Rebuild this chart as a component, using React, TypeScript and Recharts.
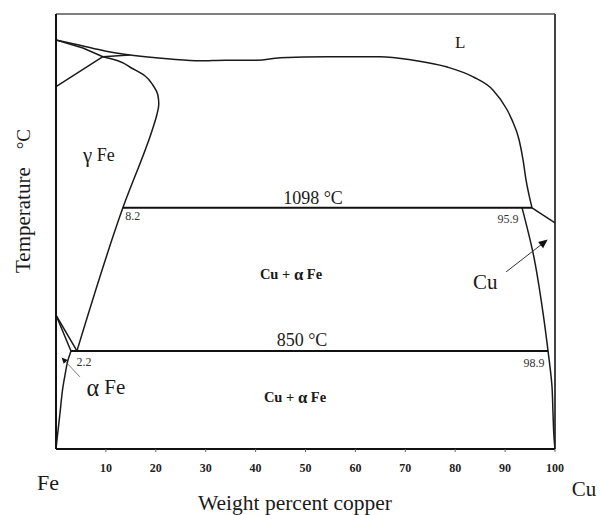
import { LineChart, Line, XAxis, YAxis, ReferenceLine, ReferenceDot } from "recharts";

// Fe–Cu phase diagram (schematic). x = wt% Cu, t = temperature in °C
const xTicks = [10, 20, 30, 40, 50, 60, 70, 80, 90, 100];

const liquidus = [
  { x: 0, t: 1389 }, { x: 4.8, t: 1380 }, { x: 9.8, t: 1370 }, { x: 14.8, t: 1363 },
  { x: 22.9, t: 1356 }, { x: 28.9, t: 1353 }, { x: 33.9, t: 1354 }, { x: 40.3, t: 1354 },
  { x: 44.9, t: 1358 }, { x: 54.5, t: 1360 }, { x: 64.9, t: 1360 }, { x: 71.5, t: 1354 },
  { x: 78.4, t: 1342 }, { x: 83.6, t: 1325 }, { x: 87.6, t: 1302 }, { x: 90.4, t: 1268 },
  { x: 91.4, t: 1250 }, { x: 92.8, t: 1216 }, { x: 93.6, t: 1181 }, { x: 94.2, t: 1146 },
  { x: 94.8, t: 1120 }, { x: 95.4, t: 1098 },
];
const deltaSolidus = [{ x: 0, t: 1389 }, { x: 5.4, t: 1375 }, { x: 9.4, t: 1360 }];
const deltaPeritectic = [{ x: 9.4, t: 1360 }, { x: 14.8, t: 1363 }];
const deltaGamma = [{ x: 0, t: 1308 }, { x: 9.4, t: 1360 }];
const gammaBoundary = [
  { x: 9.4, t: 1360 }, { x: 12.4, t: 1353 }, { x: 15.2, t: 1340 }, { x: 17.8, t: 1327 },
  { x: 19.4, t: 1311 }, { x: 20.4, t: 1294 }, { x: 20.6, t: 1278 }, { x: 20.2, t: 1259 },
  { x: 19.4, t: 1236 }, { x: 13.4, t: 1098 }, { x: 4.2, t: 850 },
];
const alphaGammaUpper = [{ x: 0, t: 912 }, { x: 4.2, t: 850 }];
const alphaGammaLower = [{ x: 0, t: 912 }, { x: 3.0, t: 850 }];
const alphaSolvus = [
  { x: 3.0, t: 850 }, { x: 2.4, t: 834 }, { x: 1.8, t: 808 }, { x: 1.4, t: 788 },
  { x: 0.8, t: 742 }, { x: 0.2, t: 696 }, { x: 0, t: 680 },
];
const iso1098 = [{ x: 13.4, t: 1098 }, { x: 95.4, t: 1098 }];
const iso850 = [{ x: 3.0, t: 850 }, { x: 98.6, t: 850 }];
const cuLiquidus = [{ x: 95.4, t: 1098 }, { x: 100, t: 1072 }];
const cuSolvus = [
  { x: 93.4, t: 1098 }, { x: 95.6, t: 1020 }, { x: 97.6, t: 916 }, { x: 98.6, t: 850 },
  { x: 99.4, t: 788 }, { x: 99.6, t: 742 }, { x: 99.8, t: 701 }, { x: 100, t: 680 },
];
const cuArrow = [{ x: 90.2, t: 987 }, { x: 98.4, t: 1042 }];
const feArrow = [{ x: 4.8, t: 805 }, { x: 1.2, t: 838 }];

const labelText = ["L", "γ Fe", "1098 °C", "8.2", "95.9", "Cu + α Fe", "Cu", "850 °C", "2.2", "98.9", "α Fe", "Cu + α Fe"];
const labelX = [81, 8.6, 51.5, 15.4, 90.6, 47.1, 86.0, 49.3, 5.6, 95.8, 10.0, 47.9];
const labelT = [1385, 1190, 1115, 1084, 1079, 983, 970, 869, 831, 829, 788, 770];
const labelSize = [17, 18, 18, 12, 12, 14.5, 21, 18, 12, 12, 21, 14.5];

const serif = "'Liberation Serif', 'Times New Roman', serif";
const ink = "#1a1a1a";

function PhaseText({ cx, cy, text, size }: { cx?: number; cy?: number; text: string; size: number }) {
  if (cx == null || cy == null) return null;
  const greek = text.match(/[αγ]/);
  const mixture = text.startsWith("Cu +");
  const fill = size <= 12 ? "#333" : ink;
  if (!greek) {
    return (
      <text x={cx} y={cy} textAnchor="middle" dominantBaseline="central" fontFamily={serif} fontSize={size} fill={fill}>
        {text}
      </text>
    );
  }
  const i = text.indexOf(greek[0]);
  return (
    <text x={cx} y={cy} textAnchor="middle" dominantBaseline="central" fontFamily={serif} fontSize={size} fill={fill}
      fontWeight={mixture ? "bold" : "normal"}>
      {text.slice(0, i)}
      <tspan fontSize={size * 1.15}>{greek[0]}</tspan>
      {text.slice(i + 1)}
    </text>
  );
}

const renderYLabel = (props: any) => {
  const vb = props.viewBox || { x: 0, y: 0 };
  const x = vb.x + 23;
  const y = vb.y + 187;
  return (
    <text x={x} y={y} transform={`rotate(-90, ${x}, ${y})`} textAnchor="middle" dominantBaseline="central"
      fontFamily={serif} fontSize={21} fill={ink}>
      Temperature
      <tspan dx={18} fontSize={19}>°C</tspan>
    </text>
  );
};

const renderXLabel = (props: any) => {
  const vb = props.viewBox || { x: 0, y: 0 };
  return (
    <g fontFamily={serif} fill={ink}>
      <text x={vb.x + 239} y={vb.y + 61} textAnchor="middle" fontSize={21.5}>Weight percent copper</text>
      <text x={vb.x - 8} y={vb.y + 41} textAnchor="middle" fontSize={22}>Fe</text>
      <text x={vb.x + 528} y={vb.y + 47} textAnchor="middle" fontSize={21}>Cu</text>
    </g>
  );
};

export default function App() {
  const curves = [
    liquidus, deltaSolidus, deltaPeritectic, deltaGamma, alphaGammaUpper, alphaGammaLower, cuLiquidus,
  ];
  return (
    <div style={{ width: 601, height: 515, overflow: "hidden" }}>
      <style>{"body{margin:0;overflow:hidden}"}</style>
      <LineChart width={601} height={515} margin={{ top: 14, right: 46, bottom: 36, left: 0 }}>
        <defs>
          <marker id="ahBig" viewBox="0 0 10 10" refX="9" refY="5" markerWidth="12" markerHeight="9"
            markerUnits="userSpaceOnUse" orient="auto">
            <path d="M0,0.5 L10,5 L0,9.5 z" fill="#111" />
          </marker>
          <marker id="ahSmall" viewBox="0 0 10 10" refX="9" refY="5" markerWidth="8" markerHeight="6"
            markerUnits="userSpaceOnUse" orient="auto">
            <path d="M0,0.5 L10,5 L0,9.5 z" fill="#111" />
          </marker>
        </defs>
        <XAxis
          type="number"
          dataKey="x"
          domain={[0, 100]}
          ticks={xTicks}
          allowDataOverflow
          height={30}
          axisLine={{ stroke: "#111", strokeWidth: 2 }}
          tickLine={{ stroke: "#666" }}
          tickSize={3}
          tickMargin={11}
          tick={{ fontSize: 12, fill: "#222", fontFamily: serif, fontWeight: "bold" }}
          label={renderXLabel}
        />
        <YAxis
          type="number"
          dataKey="t"
          domain={[680, 1434]}
          allowDataOverflow
          width={56}
          tick={false}
          tickLine={false}
          axisLine={{ stroke: "#111", strokeWidth: 2 }}
          label={renderYLabel}
        />
        <ReferenceLine y={1434} stroke="#555" strokeWidth={1.5} />
        <ReferenceLine x={100} stroke="#444" strokeWidth={2} />

        {curves.map((d, i) => (
          <Line key={i} data={d} dataKey="t" type={i === 0 ? "monotone" : "linear"} stroke={ink} strokeWidth={1.5}
            dot={false} activeDot={false} isAnimationActive={false} />
        ))}
        <Line data={gammaBoundary} dataKey="t" type="monotoneY" stroke={ink} strokeWidth={1.5}
          dot={false} activeDot={false} isAnimationActive={false} />
        <Line data={alphaSolvus} dataKey="t" type="monotoneY" stroke={ink} strokeWidth={1.5}
          dot={false} activeDot={false} isAnimationActive={false} />
        <Line data={cuSolvus} dataKey="t" type="monotoneY" stroke={ink} strokeWidth={1.5}
          dot={false} activeDot={false} isAnimationActive={false} />
        <Line data={iso1098} dataKey="t" type="linear" stroke="#111" strokeWidth={2}
          dot={false} activeDot={false} isAnimationActive={false} />
        <Line data={iso850} dataKey="t" type="linear" stroke="#111" strokeWidth={2}
          dot={false} activeDot={false} isAnimationActive={false} />
        <Line data={cuArrow} dataKey="t" type="linear" stroke="#333" strokeWidth={1} markerEnd="url(#ahBig)"
          dot={false} activeDot={false} isAnimationActive={false} />
        <Line data={feArrow} dataKey="t" type="linear" stroke="#555" strokeWidth={0.8} markerEnd="url(#ahSmall)"
          dot={false} activeDot={false} isAnimationActive={false} />

        {labelText.map((s, i) => (
          <ReferenceDot key={s + i} x={labelX[i]} y={labelT[i]} r={0}
            shape={(p: any) => <PhaseText cx={p.cx} cy={p.cy} text={s} size={labelSize[i]} />} />
        ))}
      </LineChart>
    </div>
  );
}
